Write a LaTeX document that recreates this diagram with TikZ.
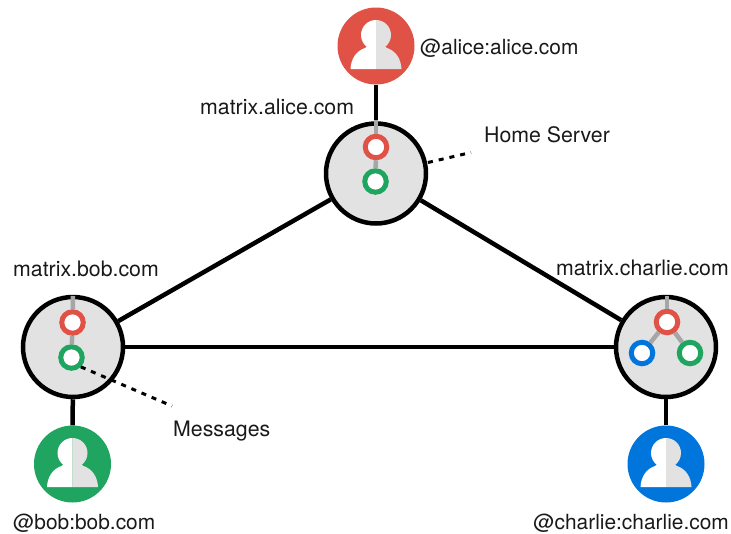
\documentclass[tikz,border=0pt]{standalone}
\usepackage{fontspec}
\setmainfont{TeX Gyre Heros}
\definecolor{redring}{HTML}{DF5245}
\definecolor{greenring}{HTML}{20A561}
\definecolor{bluering}{HTML}{0075DB}
\definecolor{serverfill}{HTML}{E2E2E2}
\definecolor{stubgray}{HTML}{A6A6A6}

\begin{document}
\begin{tikzpicture}[x=1pt, y=-1pt]
    % Styles
    \tikzstyle{server} = [circle, draw=black, line width=4.5pt, fill=serverfill, minimum size=100pt, inner sep=0pt]
    \tikzstyle{avatar} = [circle, minimum size=77pt, inner sep=0pt]
    \tikzstyle{ring} = [circle, line width=5pt, fill=white, minimum size=21.5pt, inner sep=0pt]
    \tikzstyle{link} = [line width=4.5pt]
    \tikzstyle{stub} = [line width=4.5pt, stubgray]
    \tikzstyle{leader} = [line width=3pt, dash pattern=on 5pt off 6pt]
    \tikzstyle{label} = [inner sep=0pt, font=\fontsize{21.3}{24}\selectfont, text=black!90]
    \tikzstyle{userlabel} = [inner sep=0pt, font=\fontsize{20.9}{24}\selectfont, text=black!90]
    \tikzset{person/.pic={
        \path[fill=white] (0,-26) arc (270:125:15) .. controls (-8,-1) and (-9,1) .. (-11,2)
            .. controls (-20,5) and (-25,13) .. (-25.5,23) -- (0,23) -- cycle;
        \path[fill=serverfill] (0,-26) arc (-90:55:15) .. controls (8,-1) and (9,1) .. (11,2)
            .. controls (20,5) and (25,13) .. (25.5,23) -- (0,23) -- cycle;
    }}
    \useasboundingbox (0,0) rectangle (731,533);

    % Users
    \node[avatar, fill=redring] (aliceuser) at (376,46) {};
    \node[avatar, fill=greenring] (bobuser) at (72.5,464) {};
    \node[avatar, fill=bluering] (charlieuser) at (666,464) {};
    \pic at (aliceuser) {person};
    \pic at (bobuser) {person};
    \pic at (charlieuser) {person};

    % Servers
    \node[server] (alicehome) at (376,173.5) {};
    \node[server] (bobhome) at (73,347) {};
    \node[server] (charliehome) at (666,347) {};

    % Links
    \draw[link] (aliceuser) -- (alicehome);
    \draw[link] (bobuser) -- (bobhome);
    \draw[link] (charlieuser) -- (charliehome);
    \draw[link] (alicehome) -- (bobhome);
    \draw[link] (alicehome) -- (charliehome);
    \draw[link] (bobhome) -- (charliehome);

    % Messages
    \node[ring, draw=redring] (alicered) at (376,147) {};
    \node[ring, draw=greenring] (alicegreen) at (375.5,181.5) {};
    \node[ring, draw=redring] (bobred) at (72.5,322.5) {};
    \node[ring, draw=greenring] (bobgreen) at (71.5,357.5) {};
    \node[ring, draw=redring] (charliered) at (667,322) {};
    \node[ring, draw=bluering] (charlieblue) at (642,353) {};
    \node[ring, draw=greenring] (charliegreen) at (690,353) {};
    \coordinate (alicetop) at (376,120);
    \coordinate (bobtop) at (73,296);
    \coordinate (charlietop) at (667,296);
    \draw[stub] (alicetop) -- (alicered);
    \draw[stub] (alicered) -- (alicegreen);
    \draw[stub] (bobtop) -- (bobred);
    \draw[stub] (bobred) -- (bobgreen);
    \draw[stub] (charlietop) -- (charliered);
    \draw[stub] (charliered) -- (charlieblue);
    \draw[stub] (charliered) -- (charliegreen);

    % Labels
    \node[userlabel, anchor=west] (alicename) at (420,48) {@alice:alice.com};
    \node[label, anchor=west] (alicehost) at (200,106.5) {matrix.alice.com};
    \node[label, anchor=west] (homelabel) at (484,135) {Home Server};
    \node[label, anchor=west] (bobhost) at (13,269) {matrix.bob.com};
    \node[label, anchor=east] (charliehost) at (729,268) {matrix.charlie.com};
    \node[label, anchor=west] (msglabel) at (173,431.5) {Messages};
    \node[userlabel, anchor=west] (bobname) at (13,523.5) {@bob:bob.com};
    \node[userlabel, anchor=east] (charliename) at (729,523.5) {@charlie:charlie.com};

    % Leaders
    \coordinate (homeend) at (471,152.5);
    \coordinate (msgend) at (172,406);
    \draw[leader] (alicehome) ++(52,-11) coordinate (homestart) -- (homeend);
    \draw[leader] (bobgreen.south east) -- (msgend);
\end{tikzpicture}
\end{document}
